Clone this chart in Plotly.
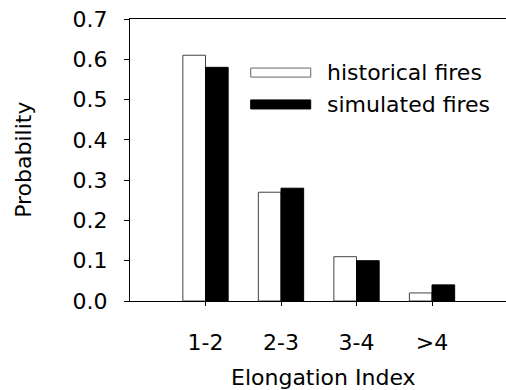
import plotly.graph_objects as go

categories = ["1-2", "2-3", "3-4", ">4"]
historical = [0.61, 0.27, 0.11, 0.02]
simulated = [0.58, 0.28, 0.10, 0.04]
series_names = ["historical fires", "simulated fires"]
y_ticks = [0.0, 0.1, 0.2, 0.3, 0.4, 0.5, 0.6, 0.7]
x_title = "Elongation Index"
y_title = "Probability"

FONT = "DejaVu Sans"

fig = go.Figure()
fig.add_trace(go.Bar(x=categories, y=historical, name=series_names[0],
                     marker=dict(color="white", line=dict(color="#444", width=1))))
fig.add_trace(go.Bar(x=categories, y=simulated, name=series_names[1],
                     marker=dict(color="black", line=dict(color="black", width=1))))

# manual legend
leg = [(0.826, 0.794, "white", "#666", series_names[0]),
       (0.713, 0.681, "black", "black", series_names[1])]
for top, bot, fill, lc, name in leg:
    fig.add_shape(type="rect", xref="paper", yref="paper", x0=0.321, x1=0.4806,
                  y0=bot, y1=top, fillcolor=fill, line=dict(color=lc, width=1))
    fig.add_annotation(xref="paper", yref="paper", x=0.519, y=(top + bot) / 2,
                       text=name, showarrow=False, xanchor="left", yanchor="middle",
                       font=dict(family=FONT, size=22, color="black"))

# axis titles
fig.add_annotation(xref="paper", yref="paper", x=0.5146, y=-0.27, text=x_title,
                   showarrow=False, xanchor="center", yanchor="middle",
                   font=dict(family=FONT, size=22, color="black"))
fig.add_annotation(xref="paper", yref="paper", x=-0.285, y=0.5, text=y_title,
                   showarrow=False, xanchor="center", yanchor="middle", textangle=-90,
                   font=dict(family=FONT, size=22, color="black"))

fig.update_layout(
    width=506, height=390,
    margin=dict(l=130, r=0, t=19, b=89, autoexpand=False),
    paper_bgcolor="white", plot_bgcolor="white",
    barmode="group", bargap=0.4, bargroupgap=0,
    showlegend=False,
    font=dict(family=FONT, size=22, color="black"),
)
fig.update_xaxes(
    type="category", range=[-1, 3.98], automargin=False,
    showline=True, linecolor="black", linewidth=1, mirror=True,
    ticks="outside", ticklen=4, tickcolor="black", ticklabelstandoff=18,
    showgrid=False, zeroline=False,
)
fig.update_yaxes(
    range=[0, 0.7], tickvals=y_ticks, tickformat=".1f", automargin=False,
    showline=True, linecolor="black", linewidth=1,
    ticks="outside", ticklen=5, tickcolor="black", ticklabelstandoff=12,
    showgrid=False, zeroline=False,
)

fig.write_html(
    "out.html",
    config={"displayModeBar": False},
    post_script="document.body.style.margin='0';document.body.style.overflow='hidden';",
)
